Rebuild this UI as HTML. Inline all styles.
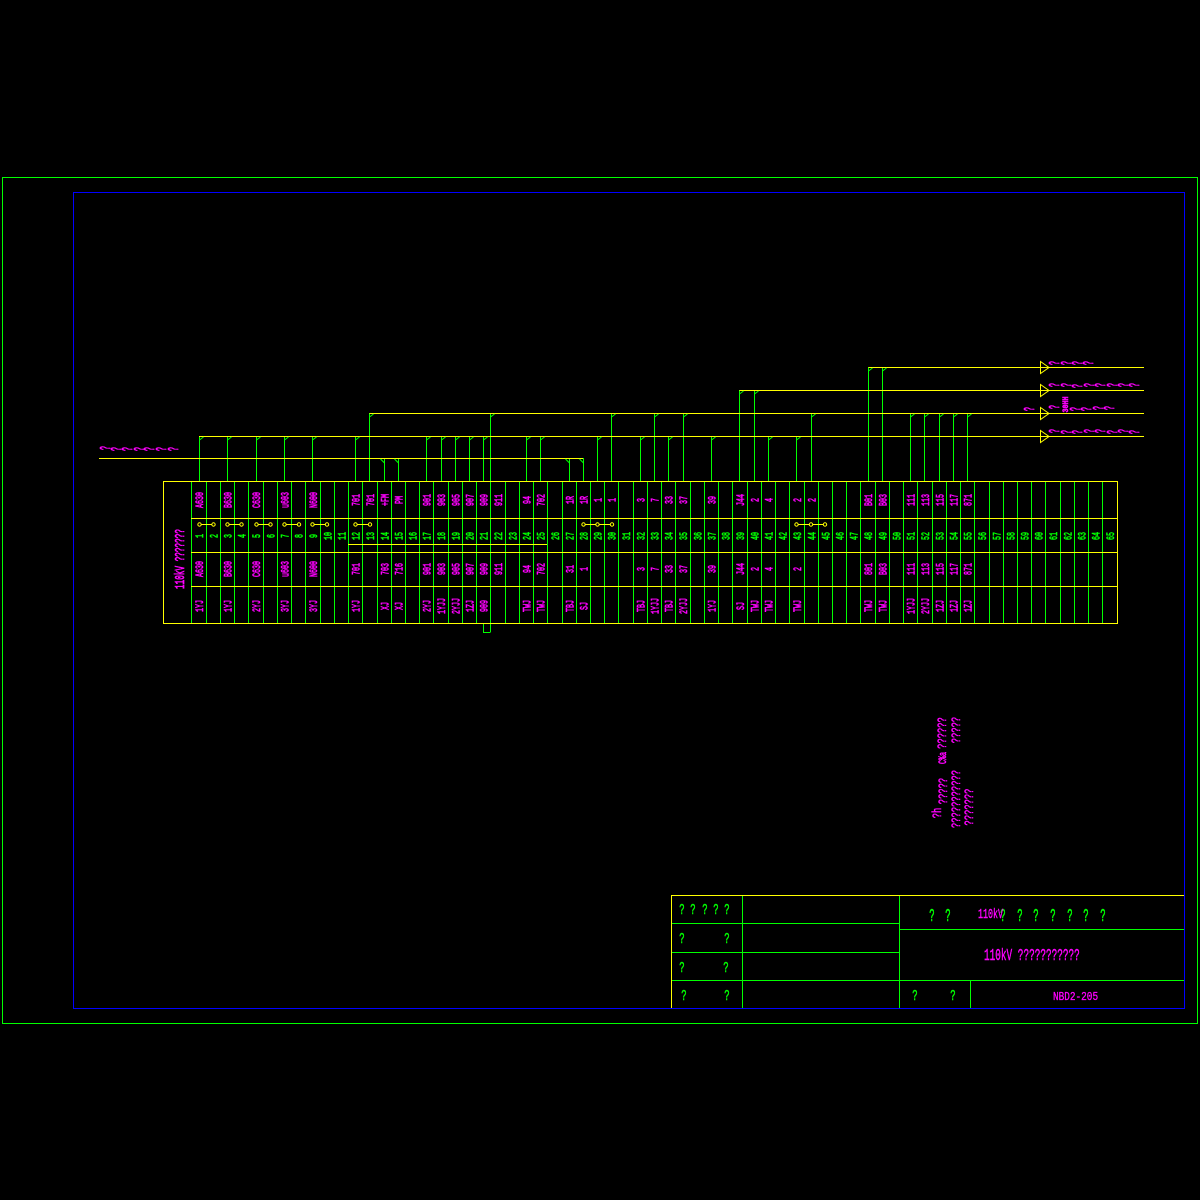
<!DOCTYPE html>
<html><head><meta charset="utf-8"><style>
html,body{margin:0;padding:0;background:#000}
svg{display:block}
text{font-family:"Liberation Mono",monospace;text-anchor:middle}
.m{fill:#f0f;stroke:#f0f;stroke-width:.4;font-size:6.67px}
.g{fill:#0f0;stroke:#0f0;stroke-width:.4;font-size:6.67px}
.q{fill:#f0f;stroke:#f0f;stroke-width:.4;font-size:6.67px}
.s{fill:#f0f;stroke:#f0f;stroke-width:.35;font-size:8.8px}
.u{fill:#0f0;stroke:#0f0;stroke-width:.5;font-size:15px}
.t{fill:#f0f;stroke:#f0f;stroke-width:.25;font-size:9.4px;text-anchor:start}
</style></head><body>
<svg width="1200" height="1200" viewBox="0 0 1200 1200" xmlns="http://www.w3.org/2000/svg">
<rect width="1200" height="1200" fill="#000"/>
<g fill="none" shape-rendering="crispEdges" stroke-width="1">
<rect x="2.5" y="177.5" width="1195" height="846" stroke="#0f0"/>
<path stroke="#0f0" d="M199.5 436V481M227.5 436V481M256.5 436V481M284.5 436V481M312.5 436V481M355.5 436V481M426.5 436V481M441.5 436V481M455.5 436V481M469.5 436V481M483.5 436V481M526.5 436V481M540.5 436V481M597.5 436V481M640.5 436V481M668.5 436V481M711.5 436V481M768.5 436V481M796.5 436V481M369.5 413V481M490.5 413V481M611.5 413V481M654.5 413V481M683.5 413V481M811.5 413V481M910.5 413V481M924.5 413V481M939.5 413V481M953.5 413V481M967.5 413V481M739.5 390V481M754.5 390V481M868.5 367V481M882.5 367V481M384.5 458V481M398.5 458V481M569.5 458V481M583.5 458V481"/>
<path stroke="#0f0" d="M191.5 481V623M206.5 481V623M220.5 481V623M234.5 481V623M248.5 481V623M263.5 481V623M277.5 481V623M291.5 481V623M305.5 481V623M320.5 481V623M334.5 481V623M348.5 481V623M362.5 481V623M377.5 481V623M391.5 481V623M405.5 481V623M419.5 481V623M433.5 481V623M448.5 481V623M462.5 481V623M476.5 481V623M490.5 481V632M505.5 481V623M519.5 481V623M533.5 481V623M547.5 481V623M562.5 481V623M576.5 481V623M590.5 481V623M604.5 481V623M618.5 481V623M633.5 481V623M647.5 481V623M661.5 481V623M675.5 481V623M690.5 481V623M704.5 481V623M718.5 481V623M732.5 481V623M747.5 481V623M761.5 481V623M775.5 481V623M789.5 481V623M804.5 481V623M818.5 481V623M832.5 481V623M846.5 481V623M860.5 481V623M875.5 481V623M889.5 481V623M903.5 481V623M917.5 481V623M932.5 481V623M946.5 481V623M960.5 481V623M974.5 481V623M989.5 481V623M1003.5 481V623M1017.5 481V623M1031.5 481V623M1045.5 481V623M1060.5 481V623M1074.5 481V623M1088.5 481V623M1102.5 481V623M483.5 623V632.5H490.5"/>
<path stroke="#ff0" d="M163.5 481.5H1117.5V623.5H163.5ZM191 518.5H1117M191 552.5H1117M191 586.5H1117M348 544.5H547M199 436.5H1144M99 458.5H583M369.5 413.5H1144M739.5 390.5H1144M868.5 367.5H1144M199.5 524.5H213.5M227.5 524.5H241.5M256.5 524.5H270.5M284.5 524.5H299M312.5 524.5H327M355.5 524.5H370M583.5 524.5H612M796.5 524.5H825"/>
<!-- frame and title block -->
<path stroke="#0f0" d="M742.5 895V1008M899.5 895V1008M671 923.5H899M671 952.5H899M671 980.5H1184M899 929.5H1184M970.5 980V1008"/>
<path stroke="#ff0" d="M671.5 1008V895.5H1184"/>
<rect x="73.5" y="192.5" width="1111" height="816" stroke="#00f"/>
</g>
<g fill="none" stroke="#0f0" stroke-width="1">
<path d="M199.5 440l4-3M227.5 440l4-3M256.5 440l4-3M284.5 440l4-3M312.5 440l4-3M355.5 440l4-3M426.5 440l4-3M441.5 440l4-3M455.5 440l4-3M469.5 440l4-3M483.5 440l4-3M526.5 440l4-3M540.5 440l4-3M597.5 440l4-3M640.5 440l4-3M668.5 440l4-3M711.5 440l4-3M768.5 440l4-3M796.5 440l4-3M369.5 417l4-3M490.5 417l4-3M611.5 417l4-3M654.5 417l4-3M683.5 417l4-3M811.5 417l4-3M910.5 417l4-3M924.5 417l4-3M939.5 417l4-3M953.5 417l4-3M967.5 417l4-3M739.5 394l4-3M754.5 394l4-3M868.5 371l4-3M882.5 371l4-3M380.5 459l4 4M394.5 459l4 4M565.5 459l4 4M579.5 459l4 4"/>
</g>
<g fill="#000" stroke="#ff0" stroke-width="1">
<circle cx="199.5" cy="524.5" r="1.7"/><circle cx="213.5" cy="524.5" r="1.7"/><circle cx="227.5" cy="524.5" r="1.7"/><circle cx="241.5" cy="524.5" r="1.7"/><circle cx="256.5" cy="524.5" r="1.7"/><circle cx="270.5" cy="524.5" r="1.7"/><circle cx="284.5" cy="524.5" r="1.7"/><circle cx="299" cy="524.5" r="1.7"/><circle cx="312.5" cy="524.5" r="1.7"/><circle cx="327" cy="524.5" r="1.7"/><circle cx="355.5" cy="524.5" r="1.7"/><circle cx="370" cy="524.5" r="1.7"/><circle cx="583.5" cy="524.5" r="1.7"/><circle cx="597.5" cy="524.5" r="1.7"/><circle cx="612" cy="524.5" r="1.7"/><circle cx="796.5" cy="524.5" r="1.7"/><circle cx="811" cy="524.5" r="1.7"/><circle cx="825" cy="524.5" r="1.7"/>
</g>
<g fill="none" stroke="#ff0" stroke-width="1">
<path d="M1040.5 361.5L1049 367.5L1040.5 373.5ZM1040.5 384.5L1049 390.5L1040.5 396.5ZM1040.5 407.5L1049 413.5L1040.5 419.5ZM1040.5 430.5L1049 436.5L1040.5 442.5Z"/>
</g>
<!-- row 1 -->
<text class="m" transform="matrix(0 -1 1.6 0 203 500)">A630</text>
<text class="m" transform="matrix(0 -1 1.6 0 231.5 500)">B630</text>
<text class="m" transform="matrix(0 -1 1.6 0 260 500)">C630</text>
<text class="m" transform="matrix(0 -1 1.6 0 288.5 500)">u603</text>
<text class="m" transform="matrix(0 -1 1.6 0 317 500)">N600</text>
<text class="m" transform="matrix(0 -1 1.6 0 359.5 500)">701</text>
<text class="m" transform="matrix(0 -1 1.6 0 374 500)">701</text>
<text class="m" transform="matrix(0 -1 1.6 0 388.5 500)">+FM</text>
<text class="m" transform="matrix(0 -1 1.6 0 402.5 500)">PM</text>
<text class="m" transform="matrix(0 -1 1.6 0 430.5 500)">901</text>
<text class="m" transform="matrix(0 -1 1.6 0 445 500)">903</text>
<text class="m" transform="matrix(0 -1 1.6 0 459.5 500)">905</text>
<text class="m" transform="matrix(0 -1 1.6 0 473.5 500)">907</text>
<text class="m" transform="matrix(0 -1 1.6 0 487.5 500)">909</text>
<text class="m" transform="matrix(0 -1 1.6 0 502 500)">911</text>
<text class="m" transform="matrix(0 -1 1.6 0 530.5 500)">94</text>
<text class="m" transform="matrix(0 -1 1.6 0 544.5 500)">702</text>
<text class="m" transform="matrix(0 -1 1.6 0 573.5 500)">1R</text>
<text class="m" transform="matrix(0 -1 1.6 0 587.5 500)">1R</text>
<text class="m" transform="matrix(0 -1 1.6 0 601.5 500)">1</text>
<text class="m" transform="matrix(0 -1 1.6 0 615.5 500)">1</text>
<text class="m" transform="matrix(0 -1 1.6 0 644.5 500)">3</text>
<text class="m" transform="matrix(0 -1 1.6 0 658.5 500)">7</text>
<text class="m" transform="matrix(0 -1 1.6 0 672.5 500)">33</text>
<text class="m" transform="matrix(0 -1 1.6 0 687 500)">37</text>
<text class="m" transform="matrix(0 -1 1.6 0 715.5 500)">39</text>
<text class="m" transform="matrix(0 -1 1.6 0 744 500)">J44</text>
<text class="m" transform="matrix(0 -1 1.6 0 758.5 500)">2</text>
<text class="m" transform="matrix(0 -1 1.6 0 772.5 500)">4</text>
<text class="m" transform="matrix(0 -1 1.6 0 801 500)">2</text>
<text class="m" transform="matrix(0 -1 1.6 0 815.5 500)">2</text>
<text class="m" transform="matrix(0 -1 1.6 0 872 500)">B01</text>
<text class="m" transform="matrix(0 -1 1.6 0 886.5 500)">B03</text>
<text class="m" transform="matrix(0 -1 1.6 0 914.5 500)">111</text>
<text class="m" transform="matrix(0 -1 1.6 0 929 500)">113</text>
<text class="m" transform="matrix(0 -1 1.6 0 943.5 500)">115</text>
<text class="m" transform="matrix(0 -1 1.6 0 957.5 500)">117</text>
<text class="m" transform="matrix(0 -1 1.6 0 971.5 500)">871</text>
<!-- row 2 -->
<text class="g" transform="matrix(0 -1 1.6 0 203 536)">1</text>
<text class="g" transform="matrix(0 -1 1.6 0 217.5 536)">2</text>
<text class="g" transform="matrix(0 -1 1.6 0 231.5 536)">3</text>
<text class="g" transform="matrix(0 -1 1.6 0 245.5 536)">4</text>
<text class="g" transform="matrix(0 -1 1.6 0 260 536)">5</text>
<text class="g" transform="matrix(0 -1 1.6 0 274.5 536)">6</text>
<text class="g" transform="matrix(0 -1 1.6 0 288.5 536)">7</text>
<text class="g" transform="matrix(0 -1 1.6 0 302.5 536)">8</text>
<text class="g" transform="matrix(0 -1 1.6 0 317 536)">9</text>
<text class="g" transform="matrix(0 -1 1.6 0 331.5 536)">10</text>
<text class="g" transform="matrix(0 -1 1.6 0 345.5 536)">11</text>
<text class="g" transform="matrix(0 -1 1.6 0 359.5 536)">12</text>
<text class="g" transform="matrix(0 -1 1.6 0 374 536)">13</text>
<text class="g" transform="matrix(0 -1 1.6 0 388.5 536)">14</text>
<text class="g" transform="matrix(0 -1 1.6 0 402.5 536)">15</text>
<text class="g" transform="matrix(0 -1 1.6 0 416.5 536)">16</text>
<text class="g" transform="matrix(0 -1 1.6 0 430.5 536)">17</text>
<text class="g" transform="matrix(0 -1 1.6 0 445 536)">18</text>
<text class="g" transform="matrix(0 -1 1.6 0 459.5 536)">19</text>
<text class="g" transform="matrix(0 -1 1.6 0 473.5 536)">20</text>
<text class="g" transform="matrix(0 -1 1.6 0 487.5 536)">21</text>
<text class="g" transform="matrix(0 -1 1.6 0 502 536)">22</text>
<text class="g" transform="matrix(0 -1 1.6 0 516.5 536)">23</text>
<text class="g" transform="matrix(0 -1 1.6 0 530.5 536)">24</text>
<text class="g" transform="matrix(0 -1 1.6 0 544.5 536)">25</text>
<text class="g" transform="matrix(0 -1 1.6 0 559 536)">26</text>
<text class="g" transform="matrix(0 -1 1.6 0 573.5 536)">27</text>
<text class="g" transform="matrix(0 -1 1.6 0 587.5 536)">28</text>
<text class="g" transform="matrix(0 -1 1.6 0 601.5 536)">29</text>
<text class="g" transform="matrix(0 -1 1.6 0 615.5 536)">30</text>
<text class="g" transform="matrix(0 -1 1.6 0 630 536)">31</text>
<text class="g" transform="matrix(0 -1 1.6 0 644.5 536)">32</text>
<text class="g" transform="matrix(0 -1 1.6 0 658.5 536)">33</text>
<text class="g" transform="matrix(0 -1 1.6 0 672.5 536)">34</text>
<text class="g" transform="matrix(0 -1 1.6 0 687 536)">35</text>
<text class="g" transform="matrix(0 -1 1.6 0 701.5 536)">36</text>
<text class="g" transform="matrix(0 -1 1.6 0 715.5 536)">37</text>
<text class="g" transform="matrix(0 -1 1.6 0 729.5 536)">38</text>
<text class="g" transform="matrix(0 -1 1.6 0 744 536)">39</text>
<text class="g" transform="matrix(0 -1 1.6 0 758.5 536)">40</text>
<text class="g" transform="matrix(0 -1 1.6 0 772.5 536)">41</text>
<text class="g" transform="matrix(0 -1 1.6 0 786.5 536)">42</text>
<text class="g" transform="matrix(0 -1 1.6 0 801 536)">43</text>
<text class="g" transform="matrix(0 -1 1.6 0 815.5 536)">44</text>
<text class="g" transform="matrix(0 -1 1.6 0 829.5 536)">45</text>
<text class="g" transform="matrix(0 -1 1.6 0 843.5 536)">46</text>
<text class="g" transform="matrix(0 -1 1.6 0 857.5 536)">47</text>
<text class="g" transform="matrix(0 -1 1.6 0 872 536)">48</text>
<text class="g" transform="matrix(0 -1 1.6 0 886.5 536)">49</text>
<text class="g" transform="matrix(0 -1 1.6 0 900.5 536)">50</text>
<text class="g" transform="matrix(0 -1 1.6 0 914.5 536)">51</text>
<text class="g" transform="matrix(0 -1 1.6 0 929 536)">52</text>
<text class="g" transform="matrix(0 -1 1.6 0 943.5 536)">53</text>
<text class="g" transform="matrix(0 -1 1.6 0 957.5 536)">54</text>
<text class="g" transform="matrix(0 -1 1.6 0 971.5 536)">55</text>
<text class="g" transform="matrix(0 -1 1.6 0 986 536)">56</text>
<text class="g" transform="matrix(0 -1 1.6 0 1000.5 536)">57</text>
<text class="g" transform="matrix(0 -1 1.6 0 1014.5 536)">58</text>
<text class="g" transform="matrix(0 -1 1.6 0 1028.5 536)">59</text>
<text class="g" transform="matrix(0 -1 1.6 0 1042.5 536)">60</text>
<text class="g" transform="matrix(0 -1 1.6 0 1057 536)">61</text>
<text class="g" transform="matrix(0 -1 1.6 0 1071.5 536)">62</text>
<text class="g" transform="matrix(0 -1 1.6 0 1085.5 536)">63</text>
<text class="g" transform="matrix(0 -1 1.6 0 1099.5 536)">64</text>
<text class="g" transform="matrix(0 -1 1.6 0 1114 536)">65</text>
<!-- row 3 -->
<text class="m" transform="matrix(0 -1 1.6 0 203 569)">A630</text>
<text class="m" transform="matrix(0 -1 1.6 0 231.5 569)">B630</text>
<text class="m" transform="matrix(0 -1 1.6 0 260 569)">C630</text>
<text class="m" transform="matrix(0 -1 1.6 0 288.5 569)">u603</text>
<text class="m" transform="matrix(0 -1 1.6 0 317 569)">N600</text>
<text class="m" transform="matrix(0 -1 1.6 0 359.5 569)">701</text>
<text class="m" transform="matrix(0 -1 1.6 0 388.5 569)">703</text>
<text class="m" transform="matrix(0 -1 1.6 0 402.5 569)">716</text>
<text class="m" transform="matrix(0 -1 1.6 0 430.5 569)">901</text>
<text class="m" transform="matrix(0 -1 1.6 0 445 569)">903</text>
<text class="m" transform="matrix(0 -1 1.6 0 459.5 569)">905</text>
<text class="m" transform="matrix(0 -1 1.6 0 473.5 569)">907</text>
<text class="m" transform="matrix(0 -1 1.6 0 487.5 569)">909</text>
<text class="m" transform="matrix(0 -1 1.6 0 502 569)">911</text>
<text class="m" transform="matrix(0 -1 1.6 0 530.5 569)">94</text>
<text class="m" transform="matrix(0 -1 1.6 0 544.5 569)">702</text>
<text class="m" transform="matrix(0 -1 1.6 0 573.5 569)">31</text>
<text class="m" transform="matrix(0 -1 1.6 0 587.5 569)">1</text>
<text class="m" transform="matrix(0 -1 1.6 0 644.5 569)">3</text>
<text class="m" transform="matrix(0 -1 1.6 0 658.5 569)">7</text>
<text class="m" transform="matrix(0 -1 1.6 0 672.5 569)">33</text>
<text class="m" transform="matrix(0 -1 1.6 0 687 569)">37</text>
<text class="m" transform="matrix(0 -1 1.6 0 715.5 569)">39</text>
<text class="m" transform="matrix(0 -1 1.6 0 744 569)">J44</text>
<text class="m" transform="matrix(0 -1 1.6 0 758.5 569)">2</text>
<text class="m" transform="matrix(0 -1 1.6 0 772.5 569)">4</text>
<text class="m" transform="matrix(0 -1 1.6 0 801 569)">2</text>
<text class="m" transform="matrix(0 -1 1.6 0 872 569)">801</text>
<text class="m" transform="matrix(0 -1 1.6 0 886.5 569)">B03</text>
<text class="m" transform="matrix(0 -1 1.6 0 914.5 569)">111</text>
<text class="m" transform="matrix(0 -1 1.6 0 929 569)">113</text>
<text class="m" transform="matrix(0 -1 1.6 0 943.5 569)">115</text>
<text class="m" transform="matrix(0 -1 1.6 0 957.5 569)">117</text>
<text class="m" transform="matrix(0 -1 1.6 0 971.5 569)">871</text>
<!-- row 4 -->
<text class="m" transform="matrix(0 -1 1.6 0 203 606)">1YJ</text>
<text class="m" transform="matrix(0 -1 1.6 0 231.5 606)">1YJ</text>
<text class="m" transform="matrix(0 -1 1.6 0 260 606)">2YJ</text>
<text class="m" transform="matrix(0 -1 1.6 0 288.5 606)">3YJ</text>
<text class="m" transform="matrix(0 -1 1.6 0 317 606)">3YJ</text>
<text class="m" transform="matrix(0 -1 1.6 0 359.5 606)">1YJ</text>
<text class="m" transform="matrix(0 -1 1.6 0 388.5 606)">XJ</text>
<text class="m" transform="matrix(0 -1 1.6 0 402.5 606)">XJ</text>
<text class="m" transform="matrix(0 -1 1.6 0 430.5 606)">2YJ</text>
<text class="m" transform="matrix(0 -1 1.6 0 445 606)">1YJJ</text>
<text class="m" transform="matrix(0 -1 1.6 0 459.5 606)">2YJJ</text>
<text class="m" transform="matrix(0 -1 1.6 0 473.5 606)">1ZJ</text>
<text class="m" transform="matrix(0 -1 1.6 0 487.5 606)">909</text>
<text class="m" transform="matrix(0 -1 1.6 0 530.5 606)">TWJ</text>
<text class="m" transform="matrix(0 -1 1.6 0 544.5 606)">TWJ</text>
<text class="m" transform="matrix(0 -1 1.6 0 573.5 606)">TBJ</text>
<text class="m" transform="matrix(0 -1 1.6 0 587.5 606)">SJ</text>
<text class="m" transform="matrix(0 -1 1.6 0 644.5 606)">TBJ</text>
<text class="m" transform="matrix(0 -1 1.6 0 658.5 606)">1YJJ</text>
<text class="m" transform="matrix(0 -1 1.6 0 672.5 606)">TBJ</text>
<text class="m" transform="matrix(0 -1 1.6 0 687 606)">2YJJ</text>
<text class="m" transform="matrix(0 -1 1.6 0 715.5 606)">1YJ</text>
<text class="m" transform="matrix(0 -1 1.6 0 744 606)">SJ</text>
<text class="m" transform="matrix(0 -1 1.6 0 758.5 606)">TWJ</text>
<text class="m" transform="matrix(0 -1 1.6 0 772.5 606)">TWJ</text>
<text class="m" transform="matrix(0 -1 1.6 0 801 606)">TWJ</text>
<text class="m" transform="matrix(0 -1 1.6 0 872 606)">TWJ</text>
<text class="m" transform="matrix(0 -1 1.6 0 886.5 606)">TWJ</text>
<text class="m" transform="matrix(0 -1 1.6 0 914.5 606)">1YJJ</text>
<text class="m" transform="matrix(0 -1 1.6 0 929 606)">2YJJ</text>
<text class="m" transform="matrix(0 -1 1.6 0 943.5 606)">1ZJ</text>
<text class="m" transform="matrix(0 -1 1.6 0 957.5 606)">1ZJ</text>
<text class="m" transform="matrix(0 -1 1.6 0 971.5 606)">1ZJ</text>
<!-- side label -->
<text class="m" style="font-size:7.7px" transform="matrix(0 -1 1.8 0 184 559)">110kV ???????</text>
<!-- left label -->
<text class="q" transform="matrix(0 -1 2.2 0 110 448)">?</text>
<text class="q" transform="matrix(0 -1 2.2 0 121 449)">?</text>
<text class="q" transform="matrix(0 -1 2.2 0 132 449)">?</text>
<text class="q" transform="matrix(0 -1 2.2 0 144 449)">?</text>
<text class="q" transform="matrix(0 -1 2.2 0 154 449)">?</text>
<text class="q" transform="matrix(0 -1 2.2 0 166 449)">?</text>
<text class="q" transform="matrix(0 -1 2.2 0 178 449)">?</text>
<!-- bus 367 -->
<text class="q" transform="matrix(0 -1 2.2 0 1059 363)">?</text>
<text class="q" transform="matrix(0 -1 2.2 0 1071 363)">?</text>
<text class="q" transform="matrix(0 -1 2.2 0 1082 363)">?</text>
<text class="q" transform="matrix(0 -1 2.2 0 1093 363)">?</text>
<!-- bus 390 -->
<text class="q" transform="matrix(0 -1 2.2 0 1059 385)">?</text>
<text class="q" transform="matrix(0 -1 2.2 0 1071 385)">?</text>
<text class="q" transform="matrix(0 -1 2.2 0 1082 386)">?</text>
<text class="q" transform="matrix(0 -1 2.2 0 1094 385)">?</text>
<text class="q" transform="matrix(0 -1 2.2 0 1105 385)">?</text>
<text class="q" transform="matrix(0 -1 2.2 0 1117 385)">?</text>
<text class="q" transform="matrix(0 -1 2.2 0 1128 385)">?</text>
<text class="q" transform="matrix(0 -1 2.2 0 1139 385)">?</text>
<!-- bus 413 -->
<text class="q" transform="matrix(0 -1 2.2 0 1034 409)">?</text>
<text class="q" transform="matrix(0 -1 2.2 0 1059 407)">?</text>
<text class="m" style="font-weight:bold" transform="matrix(0 -1 1.3 0 1068 404.5)">30HH</text>
<text class="q" transform="matrix(0 -1 2.2 0 1080 409)">?</text>
<text class="q" transform="matrix(0 -1 2.2 0 1091 409)">?</text>
<text class="q" transform="matrix(0 -1 2.2 0 1103 408)">?</text>
<text class="q" transform="matrix(0 -1 2.2 0 1114 408)">?</text>
<!-- bus 436 -->
<text class="q" transform="matrix(0 -1 2.2 0 1059 431)">?</text>
<text class="q" transform="matrix(0 -1 2.2 0 1071 432)">?</text>
<text class="q" transform="matrix(0 -1 2.2 0 1082 432)">?</text>
<text class="q" transform="matrix(0 -1 2.2 0 1094 431)">?</text>
<text class="q" transform="matrix(0 -1 2.2 0 1105 431)">?</text>
<text class="q" transform="matrix(0 -1 2.2 0 1117 432)">?</text>
<text class="q" transform="matrix(0 -1 2.2 0 1128 431)">?</text>
<text class="q" transform="matrix(0 -1 2.2 0 1139 432)">?</text>
<!-- notes -->
<text class="s" transform="matrix(0 -1 1.5 0 946 733)">??????</text>
<text class="s" transform="matrix(0 -1 1.5 0 960 730)">?????</text>
<text class="m" transform="matrix(0 -1 1.6 0 946 758)">C%a</text>
<text class="s" transform="matrix(0 -1 1.5 0 960 799)">???????????</text>
<text class="s" transform="matrix(0 -1 1.5 0 947 791)">?????</text>
<text class="s" transform="matrix(0 -1 1.5 0 973 807)">???????</text>
<text class="s" transform="matrix(0 -1 1.5 0 941 813)">?h</text>
<!-- title block -->
<text class="u" transform="matrix(.6 0 0 1 682 914)">?</text>
<text class="u" transform="matrix(.6 0 0 1 693 914)">?</text>
<text class="u" transform="matrix(.6 0 0 1 705 914)">?</text>
<text class="u" transform="matrix(.6 0 0 1 716 914)">?</text>
<text class="u" transform="matrix(.6 0 0 1 727 914)">?</text>
<text class="u" transform="matrix(.6 0 0 1 682 943)">?</text>
<text class="u" transform="matrix(.6 0 0 1 727 943)">?</text>
<text class="u" transform="matrix(.6 0 0 1 682 972)">?</text>
<text class="u" transform="matrix(.6 0 0 1 726 972)">?</text>
<text class="u" transform="matrix(.6 0 0 1 684 1000)">?</text>
<text class="u" transform="matrix(.6 0 0 1 727 1000)">?</text>
<text class="u" transform="matrix(.6 0 0 1 915 1000)">?</text>
<text class="u" transform="matrix(.6 0 0 1 953 1000)">?</text>
<text class="u" transform="matrix(.6 0 0 1.2 932 921)">?</text>
<text class="u" transform="matrix(.6 0 0 1.2 948 921)">?</text>
<text class="u" transform="matrix(.6 0 0 1.2 1003 921)">?</text>
<text class="u" transform="matrix(.6 0 0 1.2 1020 921)">?</text>
<text class="u" transform="matrix(.6 0 0 1.2 1036 921)">?</text>
<text class="u" transform="matrix(.6 0 0 1.2 1053 921)">?</text>
<text class="u" transform="matrix(.6 0 0 1.2 1070 921)">?</text>
<text class="u" transform="matrix(.6 0 0 1.2 1086 921)">?</text>
<text class="u" transform="matrix(.6 0 0 1.2 1103 921)">?</text>
<text class="t" style="font-size:8.33px" transform="matrix(1 0 0 1.65 978 918)">110kV</text>
<text class="t" transform="matrix(1 0 0 1.8 984 960)">110kV ???????????</text>
<text class="t" transform="matrix(1 0 0 1.3 1053 1000)">NBD2-205</text>
</svg>
</body></html>
